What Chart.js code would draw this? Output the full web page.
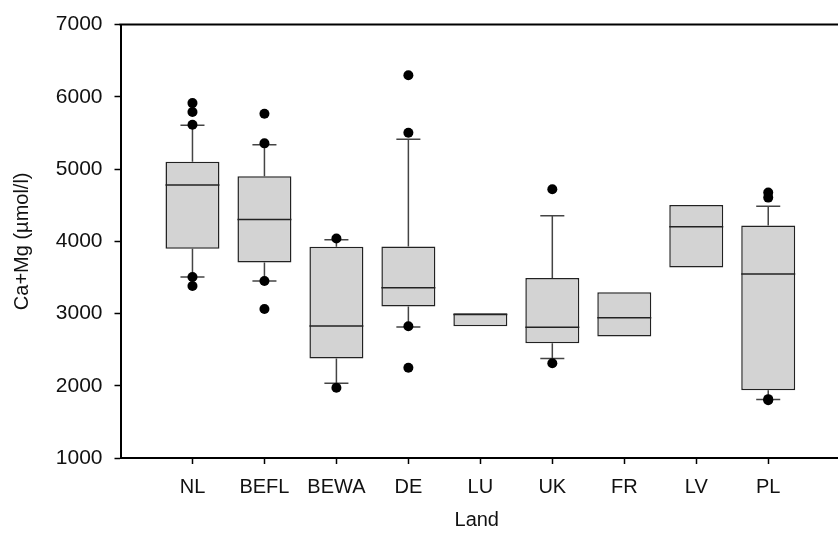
<!DOCTYPE html>
<html>
<head>
<meta charset="utf-8">
<script src="https://cdn.jsdelivr.net/npm/chart.js@4.4.1/dist/chart.umd.min.js"></script>
<style>
  html, body { margin: 0; padding: 0; background: #fff; overflow: hidden; }
  #wrap { width: 838px; height: 537px; position: relative; }
</style>
</head>
<body>
<div id="wrap"><canvas id="chart-box"></canvas></div>
<script>
// ── Datos ──
const lands    = ['NL', 'BEFL', 'BEWA', 'DE', 'LU', 'UK', 'FR', 'LV', 'PL'];
const q1       = [3896, 3707, 2377, 3099, 2823, 2588, 2681, 3638, 1939];
const medians  = [4780, 4301, 2829, 3358, 2985, 2809, 2943, 4200, 3547];
const q3       = [5102, 4901, 3924, 3928, 3003, 3492, 3293, 4504, 4218];
const whiskLo  = [3506, 3450, 2036, 2815, null, 2377, null, null, 1811];
const whiskHi  = [5605, 5337, 4021, 5412, null, 4352, null, null, 4486];
const outliers = [
  [5913, 5789, 5613, 3506, 3381],
  [5765, 5356, 3450, 3063],
  [4039, 1972],
  [6300, 5503, 2823, 2249],
  [],
  [4721, 2312],
  [],
  [],
  [4674, 4605, 1815, 1800],
];
const yTicks = [1000, 2000, 3000, 4000, 5000, 6000, 7000];

const fontFamily = '"Liberation Sans", Arial, sans-serif';
const boxFill = '#d3d3d3';
const boxLine = '#222';
const whiskColor = '#444';

// bigotes + medianas, dibujados con las escalas del gráfico
const boxExtras = {
  id: 'boxExtras',
  beforeDatasetsDraw(chart) {
    const { ctx, scales: { x, y } } = chart;
    ctx.save();
    ctx.strokeStyle = whiskColor;
    ctx.lineWidth = 1.5;
    lands.forEach((l, i) => {
      const cx = x.getPixelForValue(i + 1);
      const capHalf = x.getPixelForValue(i + 1.167) - cx;
      [[whiskHi[i], q3[i]], [whiskLo[i], q1[i]]].forEach(([w, edge]) => {
        if (w == null) return;
        ctx.beginPath();
        ctx.moveTo(cx, y.getPixelForValue(edge));
        ctx.lineTo(cx, y.getPixelForValue(w));
        ctx.moveTo(cx - capHalf, y.getPixelForValue(w));
        ctx.lineTo(cx + capHalf, y.getPixelForValue(w));
        ctx.stroke();
      });
    });
    ctx.restore();
  },
  afterDatasetsDraw(chart) {
    const { ctx, chartArea, scales: { x, y } } = chart;
    ctx.save();
    ctx.strokeStyle = boxLine;
    ctx.lineWidth = 1.5;
    lands.forEach((l, i) => {
      const half = x.getPixelForValue(i + 1.375) - x.getPixelForValue(i + 1);
      const cx = x.getPixelForValue(i + 1);
      const py = y.getPixelForValue(medians[i]);
      ctx.beginPath();
      ctx.moveTo(cx - half, py);
      ctx.lineTo(cx + half, py);
      ctx.stroke();
    });
    // marco: arriba y abajo hasta el borde del lienzo
    ctx.strokeStyle = '#000';
    ctx.lineWidth = 2;
    ctx.beginPath();
    ctx.moveTo(chartArea.left - 1, chartArea.top);
    ctx.lineTo(chart.width, chartArea.top);
    ctx.moveTo(chartArea.right - 1, chartArea.bottom);
    ctx.lineTo(chart.width, chartArea.bottom);
    ctx.stroke();
    ctx.restore();
  },
};

new Chart(document.getElementById('chart-box'), {
  data: {
    datasets: [
      {
        type: 'scatter',
        label: 'outliers',
        data: outliers.flatMap((arr, i) => arr.map(v => ({ x: i + 1, y: v }))),
        pointRadius: 5,
        pointBackgroundColor: '#000',
        pointBorderWidth: 0,
        order: 0,
      },
      {
        type: 'bar',
        label: 'box',
        data: lands.map((l, i) => ({ x: i + 1, y: [q1[i], q3[i]] })),
        backgroundColor: boxFill,
        borderColor: boxLine,
        borderWidth: 1.5,
        borderSkipped: false,
        barPercentage: 0.75,
        categoryPercentage: 1,
        order: 1,
      },
    ],
  },
  options: {
    responsive: true,
    maintainAspectRatio: false,
    animation: false,
    layout: { padding: { top: 23, right: 0, left: 0, bottom: 0 } },
    plugins: { legend: { display: false }, tooltip: { enabled: false } },
    scales: {
      x: {
        type: 'linear',
        min: 0,
        max: 9.9,
        offset: false,
        afterBuildTicks: s => { s.ticks = lands.map((l, i) => ({ value: i + 1 })); },
        afterFit: s => { s.height = 79; },
        ticks: {
          callback: (v) => lands[v - 1] || '',
          color: '#111',
          font: { family: fontFamily, size: 20 },
          padding: 11,
          maxRotation: 0,
          autoSkip: false,
        },
        grid: { offset: false, drawOnChartArea: false, tickLength: 6, tickColor: '#000', tickWidth: 1.5 },
        border: { color: '#000', width: 2 },
        title: {
          display: true,
          text: 'Land',
          color: '#111',
          font: { family: fontFamily, size: 20 },
          padding: { top: 4, bottom: 5 },
        },
      },
      y: {
        min: 1000,
        max: 7000,
        afterBuildTicks: s => { s.ticks = yTicks.map(v => ({ value: v })); },
        afterFit: s => { s.width = 120.5; },
        ticks: {
          callback: v => String(v),
          color: '#111',
          font: { family: fontFamily, size: 21 },
          padding: 12,
        },
        grid: { drawOnChartArea: false, tickLength: 6, tickColor: '#000', tickWidth: 1.5 },
        border: { color: '#000', width: 2 },
        title: {
          display: true,
          text: 'Ca+Mg (µmol/l)',
          color: '#111',
          font: { family: fontFamily, size: 20 },
          padding: { top: 10, bottom: 0 },
        },
      },
    },
  },
  plugins: [boxExtras],
});
</script>
</body>
</html>
